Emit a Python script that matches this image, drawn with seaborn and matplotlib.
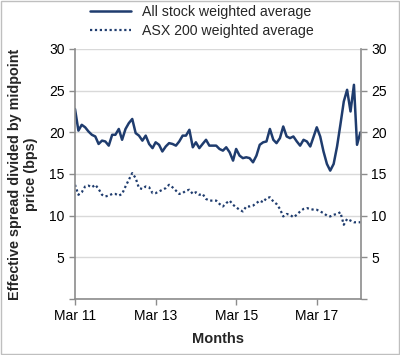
import matplotlib

matplotlib.use("Agg")
import matplotlib.pyplot as plt
import pandas as pd
import seaborn as sns

sns.set_theme(style="white")
plt.rcParams["font.family"] = ["Liberation Sans", "DejaVu Sans"]
NAVY = "#1f3c6e"

months = pd.date_range("2011-03-01", periods=86, freq="MS")

all_stock = [
    22.8, 20.2, 20.9, 20.6, 20.1, 19.7, 19.5, 18.6, 19.0, 18.9,
    18.4, 19.7, 19.7, 20.4, 19.1, 20.4, 21.1, 21.6, 19.9, 19.6,
    19.0, 19.6, 18.6, 18.1, 18.8, 18.5, 17.7, 18.3, 18.7, 18.6,
    18.4, 18.9, 19.6, 19.6, 20.3, 18.2, 18.8, 18.1, 18.6, 19.1,
    18.4, 18.4, 18.4, 18.0, 17.8, 18.2, 17.6, 16.6, 18.0, 17.2,
    16.9, 17.0, 16.9, 16.4, 17.2, 18.5, 18.8, 18.9, 20.4, 19.1,
    18.7, 19.3, 20.7, 19.5, 19.3, 19.5, 18.9, 18.4, 19.1, 18.9,
    18.3, 19.5, 20.6, 19.5, 17.7, 16.2, 15.4, 16.2, 18.3, 20.9,
    23.7, 25.1, 22.5, 25.7, 18.5, 20.0,
]
asx200 = [
    13.7, 12.5, 12.8, 13.5, 13.6, 13.4, 13.7, 13.2, 12.5, 12.3,
    12.4, 12.6, 12.6, 12.4, 12.6, 13.5, 14.3, 15.1, 14.5, 13.3,
    13.2, 13.5, 13.4, 12.7, 12.7, 12.9, 13.1, 13.3, 13.7, 13.4,
    13.0, 12.6, 12.7, 13.0, 13.1, 12.6, 12.8, 12.5, 12.6, 12.0,
    11.8, 11.8, 11.8, 11.4, 11.1, 11.5, 11.8, 11.3, 11.0, 10.7,
    10.5, 11.1, 11.1, 11.2, 11.5, 11.8, 11.6, 12.1, 12.2, 11.7,
    11.4, 10.8, 9.9, 10.2, 10.1, 9.8, 10.1, 10.5, 10.8, 10.9,
    10.8, 10.7, 10.7, 10.5, 10.3, 10.0, 9.9, 10.1, 10.2, 10.4,
    8.9, 9.6, 9.4, 9.2, 9.2, 9.2,
]
tick_dates = ["2011-03-01", "2013-03-01", "2015-03-01", "2017-03-01"]
tick_labels = ["Mar 11", "Mar 13", "Mar 15", "Mar 17"]

df = pd.DataFrame({"month": months, "all": all_stock, "asx": asx200})

fig = plt.figure(figsize=(4.0, 3.55), dpi=100)
ax = fig.add_axes([0.1875, 0.158, 0.715, 0.704])

sns.lineplot(data=df, x="month", y="all", ax=ax, color=NAVY, lw=1.8,
             label="All stock weighted average")
sns.lineplot(data=df, x="month", y="asx", ax=ax, color=NAVY, lw=1.6,
             ls=(0, (1, 1.2)), label="ASX 200 weighted average")

ax.set_ylim(0, 30)
ax.set_yticks(range(0, 31, 5))
ax.set_yticklabels(["", "5", "10", "15", "20", "25", "30"])
ax.set_xlim(months[0], months[-1] + pd.Timedelta(days=5))
ax.set_xticks(pd.to_datetime(tick_dates))
ax.set_xticklabels(tick_labels)
ax.yaxis.grid(True, color="#d9d9d9", lw=1)
ax.set_axisbelow(True)

for side in ["left", "right", "bottom"]:
    ax.spines[side].set_color("#8c8c8c")
    ax.spines[side].set_linewidth(1.2)
ax.spines["top"].set_visible(False)
ax.tick_params(axis="both", labelsize=10, colors="black", length=4,
               width=1, direction="out")
ax.tick_params(axis="both", color="#8c8c8c")
ax.tick_params(axis="y", left=True, right=True, labelright=True)
ax.tick_params(axis="x", bottom=True)

ax.set_xlabel("Months", fontsize=10.5, fontweight="bold", labelpad=6)
ax.set_ylabel("Effective spread divided by midpoint\nprice (bps)",
              fontsize=10.4, fontweight="bold", labelpad=8)

ax.legend(loc="upper center", bbox_to_anchor=(0.505, 1.01),
          bbox_transform=fig.transFigure, frameon=False, fontsize=10.2,
          handlelength=2.9, labelspacing=0.35, borderaxespad=0.2)

fig.patches.append(plt.Rectangle((0.002, 0.002), 0.996, 0.996,
                                 transform=fig.transFigure, fill=False,
                                 edgecolor="#bfbfbf", lw=1))
fig.savefig("out.png", dpi=100)
